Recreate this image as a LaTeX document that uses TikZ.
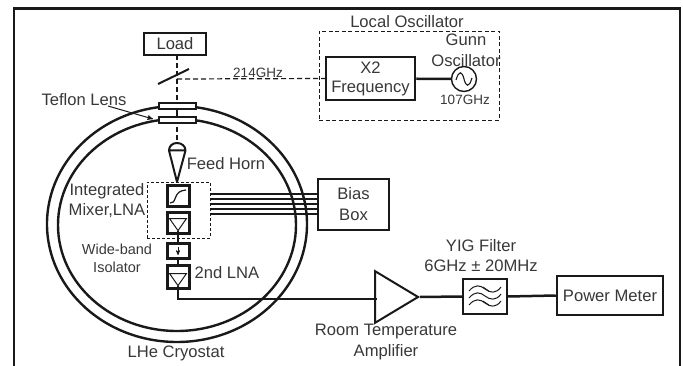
\documentclass[tikz,border=0pt]{standalone}
\usepackage{fontspec}
\setmainfont{Liberation Sans}
\usetikzlibrary{arrows,shapes.geometric}

\begin{document}
\begin{tikzpicture}[x=1pt,y=-1pt,>=stealth',line cap=butt,color=black!90,text=black!78,align=center,font=\fontsize{16.6}{18}\selectfont]

    \tikzstyle{block}=[draw,line width=2.5pt,fill=white,inner sep=0pt]
    \tikzstyle{cell}=[block,line width=3pt,minimum width=22pt]
    \tikzstyle{lens}=[block,line width=2pt,minimum width=37pt,minimum height=6pt]
    \tikzstyle{dash line}=[dashed,line width=1.2pt,dash pattern=on 5pt off 3pt]
    \tikzstyle{wire}=[line width=2.5pt]
    \tikzstyle{thin wire}=[line width=1.5pt]
    \tikzstyle{dewar}=[draw,ellipse,line width=2.4pt,inner sep=0pt]
    \tikzstyle{small}=[font=\fontsize{13.5}{15}\selectfont]
    \tikzstyle{lna}=[isosceles triangle,isosceles triangle apex angle=70,shape border rotate=-90,draw,line width=1pt,minimum height=12pt,inner sep=0pt]

    \useasboundingbox (0,0) rectangle (683,366);

    % frame, open at the bottom
    \draw[line width=2.6pt] (14,366) -- (14,8.5) -- (680,8.5) -- (680,366);

    % cryostat
    \node[dewar,minimum width=260pt,minimum height=236pt] (outer) at (177,224) {};
    \node[dewar,minimum width=238pt,minimum height=212pt] (inner) at (177,225) {};

    \node[block,minimum width=62pt,minimum height=22pt] (load) at (175,44) {Load};

    \coordinate (split)   at (177,79);
    \coordinate (mirrorA) at (158,84);
    \coordinate (mirrorB) at (189,69);
    \coordinate (hornL)   at (169,150.5);
    \coordinate (hornR)   at (185.5,150.5);
    \coordinate (hornT)   at (177,143);
    \coordinate (hornB)   at (177,182);

    \draw[dash line] (177,55) -- (split) -- (hornT);
    \draw[line width=2pt] (mirrorA) -- (mirrorB);
    \node[lens] (lens1) at (177,106) {};
    \node[lens] (lens2) at (177,120) {};
    \draw[dash line] (lens1) -- (lens2);

    % feed horn
    \draw[line width=2pt,line join=round] (hornL) .. controls (169,146) and (172.5,143) .. (hornT)
        .. controls (181.5,143) and (185.5,146) .. (hornR) -- (hornB) -- cycle (hornL) -- (hornR);

    % local oscillator
    \node[draw,dashed,line width=0.9pt,dash pattern=on 4pt off 2.5pt,minimum width=180pt,minimum height=89pt] (lobox) at (409,75.5) {};
    \node (lolabel) at (407,21.5) {Local Oscillator};
    \node[block,minimum width=89pt,minimum height=43pt] (x2) at (370.5,78.5)
        {X2\\[1pt]Frequency};
    \node[circle,draw,line width=1.4pt,minimum size=25pt,inner sep=0pt] (gunn) at (464,79) {};
    \node (gunnlabel) at (466,50.5) {Gunn\\[3.5pt]Oscillator};
    \node[small] (ghz107) at (465,100) {107GHz};
    \node[small,fill=white,inner sep=0.5pt] (ghz214) at (258,73) {214GHz};
    \draw[dash line] (split) -- (x2.west);
    \draw[wire] (x2) -- (gunn);
    \draw[line width=1.1pt] (456,80) .. controls (459,70) and (462,71) .. (464,79)
        .. controls (466,87) and (469,88) .. (472,78);

    \node (teflon) at (84,100) {Teflon Lens};
    \draw[->,line width=1pt] (108,106) -- (153,119);
    \node (feed) at (226,164) {Feed Horn};

    % receiver chain
    \node[draw,densely dashed,line width=0.9pt,minimum width=63pt,minimum height=56pt] (mlbox) at (178.5,210) {};
    \node[cell,minimum height=21pt] (mixer) at (178,196) {};
    \node[cell,minimum height=21pt] (lna1) at (178,223.5) {};
    \node[cell,minimum height=15pt] (iso) at (178,251) {};
    \node[cell,minimum height=23pt] (lna2) at (178,277) {};
    \node[lna] (tri1) at (178,223) {};
    \node[lna] (tri2) at (178,278) {};
    \draw[line width=1.2pt] (170,203) .. controls (173,203) and (174,202) .. (175.5,197.5)
        .. controls (177,193) and (180,190.5) .. (186,190);
    \draw[->,line width=0.7pt] (178,247) -- (178,255);

    \draw[thin wire] (tri1.apex) -- (lna1.south);
    \draw[thin wire] (lna1.south) -- (iso.north);
    \draw[thin wire] (iso.south) -- (lna2.north);
    \draw[thin wire] (tri2.apex) -- (lna2.south);

    \node[block,minimum width=71pt,minimum height=51pt] (bias) at (353.5,204.5) {Bias\\[3pt]Box};
    \foreach \y in {194,199,204.5,209.5,214}
        \draw[line width=2pt] (mlbox.east |- 0,\y) -- (bias.west |- 0,\y);

    \node (integrated) at (107,200.5) {Integrated\\[2.5pt]Mixer,LNA};
    \node[font=\fontsize{14.5}{16}\selectfont] (wideband) at (117,258) {Wide-band\\[2pt]Isolator};
    \node (lna2label) at (227,273) {2nd LNA};
    \node (cryolabel) at (176,353) {LHe Cryostat};

    % room temperature part
    \coordinate (ampW) at (377,299);
    \node[draw,line width=2pt,isosceles triangle,isosceles triangle apex angle=62,minimum height=43pt,
        inner sep=0pt,fill=white,anchor=apex] (amp) at (420,297) {};
    \node[draw,line width=1.6pt,minimum width=44pt,minimum height=35pt,fill=white] (yig) at (485,296.5) {};
    \node[block,minimum width=106pt,minimum height=39pt] (power) at (610,295.5) {Power Meter};
    \draw[wire] (lna2.south) |- (ampW);
    \draw[wire] (amp.apex) -- (yig.west);
    \draw[wire] (yig.east) -- (power.west);
    \foreach \dy in {-7,0,7}
        \draw[line width=1pt] (469,298+\dy) .. controls (475,291+\dy) and (480,292+\dy) .. (485,296+\dy)
            .. controls (490,300+\dy) and (496,301+\dy) .. (501,294+\dy);
    \draw[line width=0.8pt] (483,287) -- (489,291) (483,301) -- (489,305);

    \node (yiglabel) at (481,255.5) {YIG Filter\\[2.5pt]6GHz ± 20MHz};
    \node (amplabel) at (386,342) {Room Temperature\\[2.5pt]Amplifier};
\end{tikzpicture}
\end{document}
